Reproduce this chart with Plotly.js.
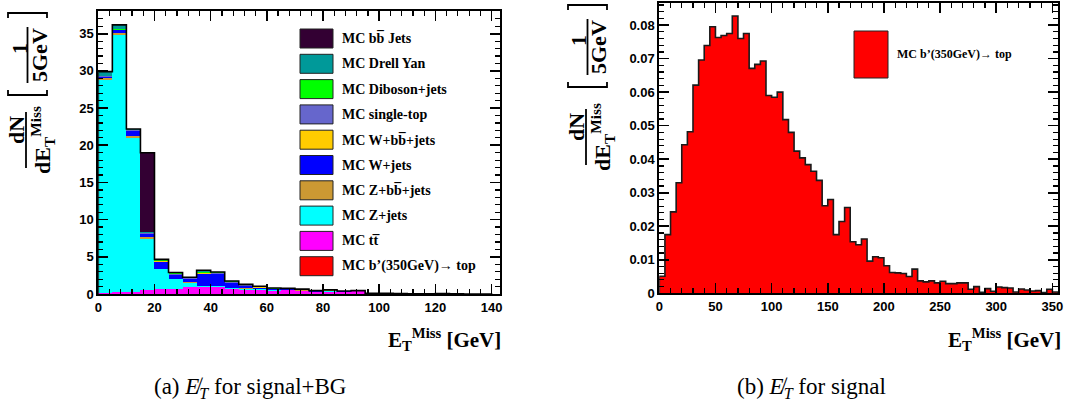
<!DOCTYPE html>
<html><head><meta charset="utf-8">
<script src="https://cdn.plot.ly/plotly-3.0.1.min.js"></script>
<style>html,body{margin:0;padding:0;background:#fff;}#chart{width:1066px;height:410px;}</style>
</head><body><div id="chart"></div>
<script>
// ---------- (a) signal + background, stacked, 5 GeV bins ----------
const bgBinCenters = [2.5,7.5,12.5,17.5,22.5,27.5,32.5,37.5,42.5,47.5,52.5,57.5,62.5,67.5,72.5,77.5,82.5,87.5,92.5,97.5,102.5,107.5,112.5,117.5,122.5,127.5,132.5,137.5];
const bPrimeBg = [0.01,0.02,0.03,0.04,0.05,0.05,0.05,0.05,0.05,0.05,0.05,0.04,0.04,0.04,0.03,0.03,0.03,0.02,0.02,0.02,0.02,0.01,0.01,0.01,0.01,0.01,0.01,0.01];
const ttbar    = [0.15,0.30,0.20,0.45,0.65,0.57,0.85,0.89,0.93,0.57,0.45,0.45,0.40,0.45,0.40,0.25,0.30,0.25,0.35,0.03,0.04,0.02,0.01,0.01,0,0,0,0];
const zJets    = [28.59,34.48,20.77,6.88,2.60,1.34,0.60,0.13,0.10,0.14,0.20,0.15,0.05,0.05,0.03,0.03,0.08,0.02,0.01,0.01,0,0,0,0,0,0,0,0];
const zbbJets  = [0.30,0.30,0.30,0.27,0.10,0.05,0.05,0.05,0.05,0.05,0.05,0.03,0.02,0.02,0.02,0.01,0.01,0.01,0.01,0,0,0,0,0,0,0,0,0];
const wJets    = [0.15,0.35,0.60,0.45,0.95,0.55,0.45,1.55,1.55,0.62,0.30,0.20,0.15,0.07,0.07,0.05,0.04,0.04,0.02,0.02,0.01,0.01,0,0,0,0,0,0];
const wbbJets  = [0.05,0.05,0.05,0.03,0.05,0.05,0.05,0.10,0.05,0.05,0.03,0.03,0.02,0.02,0.02,0.02,0.02,0.01,0.01,0,0,0,0,0,0,0,0,0];
const singleTop= [0.05,0.05,0.05,0.03,0.05,0.10,0.05,0.10,0.05,0.10,0.07,0.05,0.04,0.03,0.03,0.02,0.02,0.02,0.01,0.01,0.01,0.02,0.01,0,0,0,0,0];
const diboson  = [0.05,0.05,0.10,0.10,0.15,0.15,0.10,0.15,0.12,0.12,0.10,0.07,0.05,0.04,0.03,0.02,0.03,0.02,0.01,0.01,0,0,0,0.01,0.04,0.01,0,0];
const drellYan = [0.55,0.60,0.10,0.05,0.05,0.04,0.05,0.18,0.05,0.05,0.05,0.03,0.03,0.03,0.02,0.02,0.02,0.01,0.01,0,0,0,0,0,0,0,0,0];
const bbJets   = [0,0,0,10.7,0,0,0,0,0,0,0,0,0,0,0,0,0,0,0,0,0,0,0,0,0,0,0,0];

// stack order bottom -> top
const stackNames  = ["MC b’(350GeV)→ top","MC tt\u0305","MC Z+jets","MC Z+bb\u0305+jets","MC W+jets","MC W+bb\u0305+jets","MC single-top","MC Diboson+jets","MC Drell Yan","MC bb\u0305 Jets"];
const stackColors = ["#ff0000","#ff00ff","#00ffff","#cc9933","#0000ff","#ffcc00","#6666cc","#00ff00","#009999","#330033"];
const stackSeries = [bPrimeBg, ttbar, zJets, zbbJets, wJets, wbbJets, singleTop, diboson, drellYan, bbJets];

// ---------- (b) signal only, 5 GeV bins from 0 ----------
const sigBinWidth = 5;
const sigValues = [0.0051,0.0175,0.0243,0.0330,0.0443,0.0482,0.0621,0.0696,0.0739,0.0795,
  0.0763,0.0769,0.0775,0.0827,0.0760,0.0775,0.0671,0.0683,0.0693,0.0590,
  0.0585,0.0600,0.0518,0.0480,0.0424,0.0404,0.0384,0.0364,0.0337,0.0261,
  0.0280,0.0175,0.0214,0.0256,0.0154,0.0145,0.0162,0.0096,0.0109,0.0106,
  0.0082,0.0062,0.0061,0.0059,0.0050,0.0072,0.0037,0.0034,0.0037,0.0031,
  0.0036,0.0029,0.0029,0.0031,0.0031,0.0012,0.0020,0.0003,0.0014,0.0006,
  0.0019,0.0017,0.0016,0.0004,0.0013,0.0010,0.0007,0.0008,0.0002,0.0012,0.0004];
const sigName = "MC b’(350GeV)→ top";
const sigColor = "#ff0000";

// ---------- helpers ----------
const W = 1066, H = 410;
const px = v => v / W;
const py = v => 1 - v / H;
const serifB = {family: "Liberation Serif, Times New Roman, serif", color: "#000", weight: "bold"};
const tickFont = {family: "Liberation Sans Narrow, Liberation Sans, Arial, sans-serif", size: 13, color: "#000", weight: "bold"};

function stepLine(centers, vals, width) {
  const xs = [centers[0] - width/2], ys = [0];
  for (let i = 0; i < vals.length; i++) { xs.push(centers[i] - width/2); ys.push(vals[i]); }
  xs.push(centers[centers.length-1] + width/2); ys.push(vals[vals.length-1]);
  xs.push(centers[centers.length-1] + width/2); ys.push(0);
  return {xs, ys};
}

const traces = [];
stackSeries.forEach((s, i) => {
  traces.push({type: "bar", x: bgBinCenters, y: s, width: 5, name: stackNames[i],
    marker: {color: stackColors[i], line: {width: 0}}, xaxis: "x", yaxis: "y",
    showlegend: false, hoverinfo: "name+y"});
});
const bgTotal = bgBinCenters.map((_, j) => stackSeries.reduce((a, s) => a + s[j], 0));
const bgStep = stepLine(bgBinCenters, bgTotal, 5);
traces.push({type: "scatter", mode: "lines", x: bgStep.xs, y: bgStep.ys, line: {shape: "hv", color: "#000", width: 1.6},
  xaxis: "x", yaxis: "y", showlegend: false, hoverinfo: "skip"});

const sigCenters = sigValues.map((_, i) => i * sigBinWidth + sigBinWidth / 2);
const sigStep = stepLine(sigCenters, sigValues, sigBinWidth);
traces.push({type: "scatter", mode: "lines", x: sigStep.xs, y: sigStep.ys, fill: "tozeroy", fillcolor: sigColor,
  line: {shape: "hv", color: "#1a1a1a", width: 1.6}, xaxis: "x2", yaxis: "y2", name: sigName, showlegend: false});

function axis(extra) {
  return Object.assign({
    showline: true, linewidth: 2, linecolor: "#000", mirror: "allticks",
    ticks: "inside", ticklen: 10, tickwidth: 1.6, tickcolor: "#000",
    showgrid: false, zeroline: false, tickfont: tickFont, fixedrange: true
  }, extra);
}

const shapes = [], annotations = [];

// custom legends
const legendOrder = stackNames.slice().reverse();
const legendColors = stackColors.slice().reverse();
legendOrder.forEach((nm, i) => {
  const cy = 38.5 + i * 25.3;
  shapes.push({type: "rect", xref: "paper", yref: "paper", x0: px(300), x1: px(333), y0: py(cy - 9.5), y1: py(cy + 9.5),
    fillcolor: legendColors[i], line: {color: "#222", width: 1}});
  annotations.push({xref: "paper", yref: "paper", x: px(340), y: py(cy), xanchor: "left", yanchor: "middle",
    text: nm, showarrow: false, font: Object.assign({size: 14}, serifB)});
});
shapes.push({type: "rect", xref: "paper", yref: "paper", x0: px(854), x1: px(888), y0: py(78), y1: py(31),
  fillcolor: sigColor, line: {color: "#222", width: 1}});
annotations.push({xref: "paper", yref: "paper", x: px(895), y: py(54), xanchor: "left", yanchor: "middle",
  text: sigName, showarrow: false, font: Object.assign({size: 12}, serifB)});

// y-axis titles drawn as a stacked fraction  dN/dE_T^Miss [1/5GeV]
function yTitle(dx, dyB, dyF) {
  const L = {type: "path", xref: "paper", yref: "paper", line: {color: "#000", width: 1.8}};
  const P = (x, y) => px(x + dx) + "," + py(y);
  shapes.push(Object.assign({}, L, {path: "M" + P(8, 90 + dyB) + " L" + P(8, 95 + dyB) + " L" + P(47, 95 + dyB) + " L" + P(47, 90 + dyB)}));
  shapes.push(Object.assign({}, L, {path: "M" + P(8, 18 + dyB) + " L" + P(8, 13 + dyB) + " L" + P(47, 13 + dyB) + " L" + P(47, 18 + dyB)}));
  shapes.push(Object.assign({}, L, {path: "M" + P(27.5, 27 + dyB) + " L" + P(27.5, 83 + dyB)}));
  shapes.push(Object.assign({}, L, {path: "M" + P(26, 112 + dyF) + " L" + P(26, 168 + dyF)}));
  const A = (x, y, t) => annotations.push({xref: "paper", yref: "paper", x: px(x + dx), y: py(y), xanchor: "center", yanchor: "middle",
    text: t, textangle: -90, showarrow: false, font: Object.assign({size: 22}, serifB)});
  A(19, 49 + dyB, "1");
  A(39, 55 + dyB, "5GeV");
  A(16, 130 + dyF, "dN");
  A(42, 140 + dyF, "dE<sub>T</sub><sup>Miss</sup>");
}
yTitle(0, 0, 0);
yTitle(560, -8, -3);

// x-axis titles
[[503, 339], [1063, 339]].forEach(p => annotations.push({xref: "paper", yref: "paper", x: px(p[0]), y: py(p[1]),
  xanchor: "right", yanchor: "middle", text: "E<sub>T</sub><sup>Miss</sup> [GeV]", showarrow: false,
  font: Object.assign({size: 21}, serifB)}));

// captions
const capFont = {family: "Liberation Serif, Times New Roman, serif", size: 23, color: "#000"};
annotations.push({xref: "paper", yref: "paper", x: px(250), y: py(388), xanchor: "center", yanchor: "middle", showarrow: false,
  text: "(a) <i>E\u0338</i><sub><i>T</i></sub> for signal+BG", font: capFont});
annotations.push({xref: "paper", yref: "paper", x: px(811), y: py(388), xanchor: "center", yanchor: "middle", showarrow: false,
  text: "(b) <i>E\u0338</i><sub><i>T</i></sub> for signal", font: capFont});

const layout = {
  width: W, height: H, margin: {l: 0, r: 0, t: 0, b: 0},
  paper_bgcolor: "#fff", plot_bgcolor: "#fff",
  barmode: "stack", bargap: 0, showlegend: false,
  xaxis: axis({domain: [px(98.3), px(500)], range: [0, 143], tick0: 0, dtick: 20,
    minor: {ticks: "inside", ticklen: 5, dtick: 4, tickwidth: 1.2, tickcolor: "#000"}, anchor: "y"}),
  yaxis: axis({domain: [py(294), py(10.7)], range: [0, 38.1], tick0: 0, dtick: 5,
    minor: {ticks: "inside", ticklen: 5, dtick: 1, tickwidth: 1.2, tickcolor: "#000"}, anchor: "x"}),
  xaxis2: axis({domain: [px(659.3), px(1058)], range: [0, 355], tick0: 0, dtick: 50,
    minor: {ticks: "inside", ticklen: 5, dtick: 10, tickwidth: 1.2, tickcolor: "#000"}, anchor: "y2"}),
  yaxis2: axis({domain: [py(293.3), py(3)], range: [0, 0.0866], tick0: 0, dtick: 0.01,
    minor: {ticks: "inside", ticklen: 5, dtick: 0.002, tickwidth: 1.2, tickcolor: "#000"}, anchor: "x2"}),
  shapes: shapes, annotations: annotations
};

Plotly.newPlot("chart", traces, layout, {displayModeBar: false, staticPlot: true});
</script></body></html>
